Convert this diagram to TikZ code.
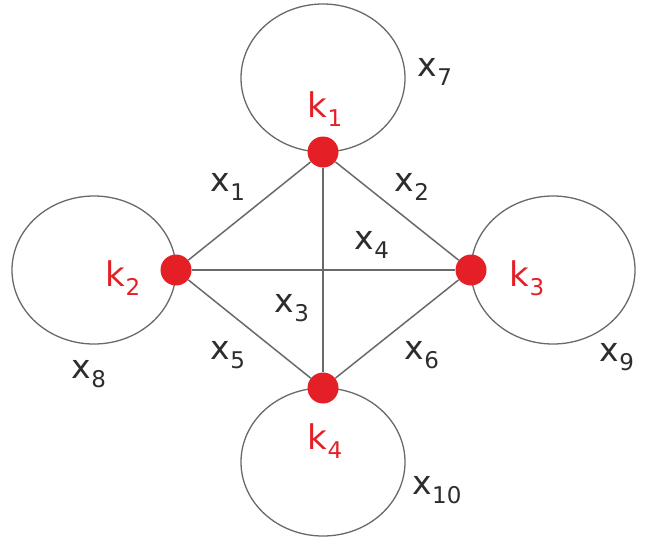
\documentclass[tikz,border=0pt]{standalone}
\usepackage{fontspec}
\setmainfont{DejaVu Sans}
\usetikzlibrary{backgrounds}
\definecolor{kred}{RGB}{228,32,38}
\definecolor{linegray}{RGB}{105,105,105}
\definecolor{txtgray}{RGB}{45,45,45}
\tikzset{
  vertex/.style={circle, fill=kred, minimum size=31pt, inner sep=0pt},
  link/.style={draw=linegray, line width=1.5pt},
  selfloop/.style={draw=linegray, line width=1.3pt},
  klabel/.style={text=kred, font=\fontsize{34}{38}\selectfont, inner sep=0pt},
  xlabel/.style={text=txtgray, font=\fontsize{33}{36}\selectfont, inner sep=0pt},
}
\newcommand{\subtxt}[2]{#1\raisebox{-9pt}{\fontsize{23}{25}\selectfont #2}}

\begin{document}
\begin{tikzpicture}[x=1pt, y=-1pt]
  \useasboundingbox (0,0) rectangle (645,539);

  \node[vertex] (k1) at (323,152) {};
  \node[vertex] (k2) at (176,270) {};
  \node[vertex] (k3) at (471,270) {};
  \node[vertex] (k4) at (323,388) {};

  % loops behind the vertices
  \begin{scope}[on background layer]
    \draw[selfloop] (k1.center) ++(0,-74) ellipse [x radius=82, y radius=74];
    \draw[selfloop] (k2.center) ++(-82,0) ellipse [x radius=82, y radius=74];
    \draw[selfloop] (k3.center) ++(82,0) ellipse [x radius=82, y radius=74];
    \draw[selfloop] (k4.center) ++(0,74) ellipse [x radius=82, y radius=74];
  \end{scope}

  \draw[link] (k1) -- (k2);
  \draw[link] (k1) -- (k3);
  \draw[link] (k1) -- (k4);
  \draw[link] (k2) -- (k3);
  \draw[link] (k2) -- (k4);
  \draw[link] (k3) -- (k4);

  \node[klabel] (lk1) at (325,109) {\subtxt{k}{1}};
  \node[klabel] (lk2) at (123,278) {\subtxt{k}{2}};
  \node[klabel] (lk3) at (527,278) {\subtxt{k}{3}};
  \node[klabel] (lk4) at (325,441) {\subtxt{k}{4}};

  \node[xlabel] (x1) at (228,187) {\subtxt{x}{1}};
  \node[xlabel] (x2) at (412,187) {\subtxt{x}{2}};
  \node[xlabel] (x3) at (292,308) {\subtxt{x}{3}};
  \node[xlabel] (x4) at (372,245) {\subtxt{x}{4}};
  \node[xlabel] (x5) at (228,355) {\subtxt{x}{5}};
  \node[xlabel] (x6) at (422,355) {\subtxt{x}{6}};
  \node[xlabel] (x7) at (435,72) {\subtxt{x}{7}};
  \node[xlabel] (x8) at (89,374) {\subtxt{x}{8}};
  \node[xlabel] (x9) at (617,357) {\subtxt{x}{9}};
  \node[xlabel] (x10) at (437,490) {\subtxt{x}{10}};

\end{tikzpicture}
\end{document}
